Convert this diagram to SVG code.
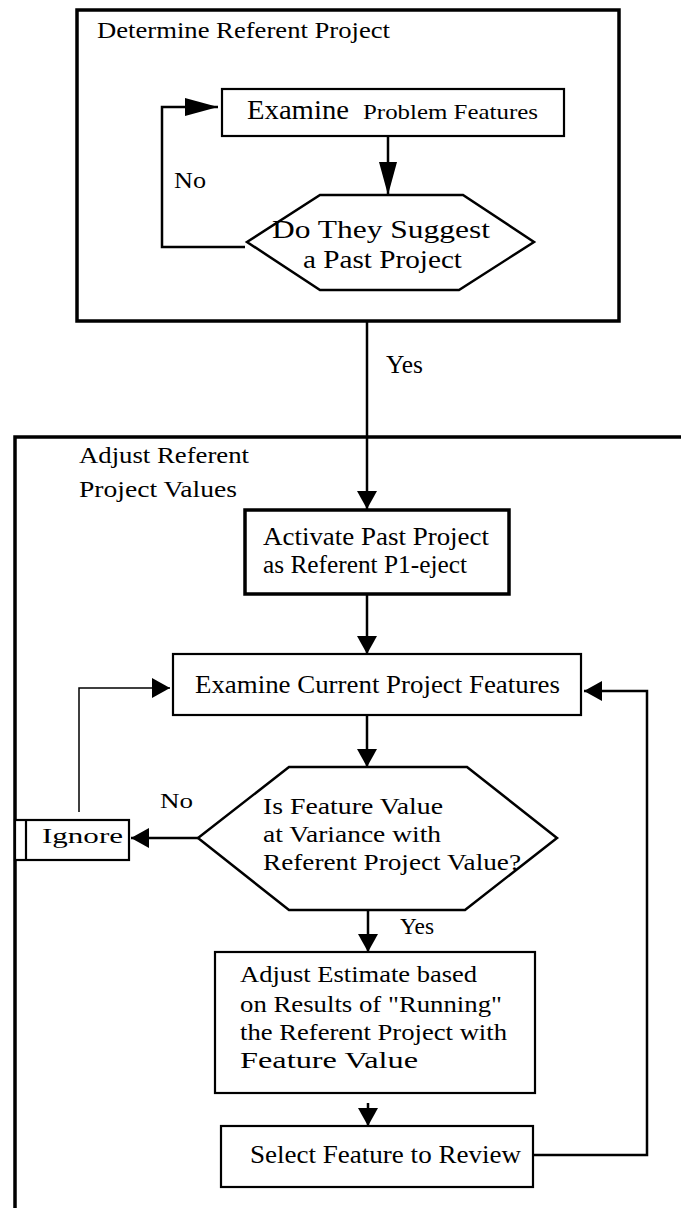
<svg xmlns="http://www.w3.org/2000/svg" width="681" height="1208" viewBox="0 0 681 1208">
  <style>
    text { font-family: "Liberation Serif", "Times New Roman", serif; fill: #000; }
    .frame { fill: none; stroke: #000; stroke-width: 3.5; }
    .box { fill: #fff; stroke: #000; stroke-width: 2.2; }
    .box-bold { fill: #fff; stroke: #000; stroke-width: 3.5; }
    .hex { fill: #fff; stroke: #000; stroke-width: 2.5; stroke-linejoin: miter; }
    .edge { fill: none; stroke: #000; stroke-width: 2.5; }
    .edge-thin { fill: none; stroke: #000; stroke-width: 1.5; }
  </style>
  <defs>
    <marker id="head" markerUnits="userSpaceOnUse" markerWidth="20" markerHeight="20" refX="18" refY="10" orient="auto">
      <path d="M0,0 L18,10 L0,20 Z" fill="#000"/>
    </marker>
    <marker id="head-long" markerUnits="userSpaceOnUse" markerWidth="34" markerHeight="20" refX="33" refY="10" orient="auto">
      <path d="M0,1 L33,10 L0,19 Z" fill="#000"/>
    </marker>
  </defs>

  <!-- outer frames -->
  <g id="frame-determine">
    <rect class="frame" x="77" y="10" width="542" height="311"/>
    <text x="97" y="38" font-size="23" textLength="293" lengthAdjust="spacingAndGlyphs">Determine Referent Project</text>
  </g>
  <g id="frame-adjust">
    <path class="frame" d="M15,1208 V437 H681"/>
    <text x="79" y="463" font-size="24" textLength="170" lengthAdjust="spacingAndGlyphs">Adjust Referent</text>
    <text x="79" y="497" font-size="24" textLength="158" lengthAdjust="spacingAndGlyphs">Project Values</text>
  </g>

  <!-- connectors -->
  <g id="connectors">
    <path class="edge" d="M388,136 V195" marker-end="url(#head-long)"/>
    <path class="edge" d="M245,247 H162 V107 H218" marker-end="url(#head-long)"/>
    <path class="edge" d="M367,321 V509" marker-end="url(#head)"/>
    <path class="edge" d="M367,594 V654" marker-end="url(#head)"/>
    <path class="edge" d="M367,715 V767" marker-end="url(#head)"/>
    <path class="edge" d="M198,838 H131" marker-end="url(#head)"/>
    <path class="edge-thin" d="M79,812 V688 H170" marker-end="url(#head)"/>
    <path class="edge" d="M368,910 V952" marker-end="url(#head)"/>
    <path class="edge" d="M368,1103 V1126" marker-end="url(#head)"/>
    <path class="edge" d="M533,1155 H647 V691 H584" marker-end="url(#head)"/>
    <text x="174" y="188" font-size="23" textLength="32" lengthAdjust="spacingAndGlyphs">No</text>
    <text x="386" y="373" font-size="25" textLength="37" lengthAdjust="spacingAndGlyphs">Yes</text>
    <text x="160" y="808" font-size="22" textLength="33" lengthAdjust="spacingAndGlyphs">No</text>
    <text x="400" y="934" font-size="24" textLength="34" lengthAdjust="spacingAndGlyphs">Yes</text>
  </g>

  <!-- nodes -->
  <g id="examine-problem">
    <rect class="box" x="222" y="89" width="342" height="47"/>
    <text x="247" y="119" font-size="28" textLength="102" lengthAdjust="spacingAndGlyphs">Examine</text>
    <text x="363" y="119" font-size="22" textLength="175" lengthAdjust="spacingAndGlyphs">Problem Features</text>
  </g>

  <g id="suggest-past">
    <polygon class="hex" points="320,195 463,195 534,242 459,290 320,290 247,242"/>
    <text x="272" y="238" font-size="25" textLength="218" lengthAdjust="spacingAndGlyphs">Do They Suggest</text>
    <text x="303" y="268" font-size="25" textLength="159" lengthAdjust="spacingAndGlyphs">a Past Project</text>
  </g>

  <g id="activate-past">
    <rect class="box-bold" x="245" y="510" width="264" height="84"/>
    <text x="263" y="545" font-size="25" textLength="226" lengthAdjust="spacingAndGlyphs">Activate Past Project</text>
    <text x="263" y="573" font-size="25" textLength="204" lengthAdjust="spacingAndGlyphs">as Referent P1-eject</text>
  </g>

  <g id="examine-current">
    <rect class="box" x="173" y="654" width="408" height="61"/>
    <text x="195" y="693" font-size="25" textLength="365" lengthAdjust="spacingAndGlyphs">Examine Current Project Features</text>
  </g>

  <g id="variance-check">
    <polygon class="hex" points="289,767 467,767 557,838 465,910 289,910 198,838"/>
    <text x="263" y="814" font-size="24" textLength="180" lengthAdjust="spacingAndGlyphs">Is Feature Value</text>
    <text x="263" y="842" font-size="24" textLength="178" lengthAdjust="spacingAndGlyphs">at Variance with</text>
    <text x="263" y="870" font-size="24" textLength="258" lengthAdjust="spacingAndGlyphs">Referent Project Value?</text>
  </g>

  <g id="ignore">
    <rect class="box" x="15" y="820" width="114" height="40"/>
    <line x1="26" y1="820" x2="26" y2="860" stroke="#000" stroke-width="2.2"/>
    <text x="42" y="843" font-size="22" textLength="81" lengthAdjust="spacingAndGlyphs">Ignore</text>
  </g>

  <g id="adjust-estimate">
    <rect class="box" x="215" y="952" width="320" height="141"/>
    <text x="240" y="982" font-size="24" textLength="237" lengthAdjust="spacingAndGlyphs">Adjust Estimate based</text>
    <text x="240" y="1012" font-size="24" textLength="262" lengthAdjust="spacingAndGlyphs">on Results of "Running"</text>
    <text x="240" y="1040" font-size="24" textLength="267" lengthAdjust="spacingAndGlyphs">the Referent Project with</text>
    <text x="240" y="1068" font-size="24" textLength="178" lengthAdjust="spacingAndGlyphs">Feature Value</text>
  </g>

  <g id="select-feature">
    <rect class="box" x="221" y="1126" width="312" height="61"/>
    <text x="250" y="1163" font-size="25" textLength="271" lengthAdjust="spacingAndGlyphs">Select Feature to Review</text>
  </g>
</svg>
